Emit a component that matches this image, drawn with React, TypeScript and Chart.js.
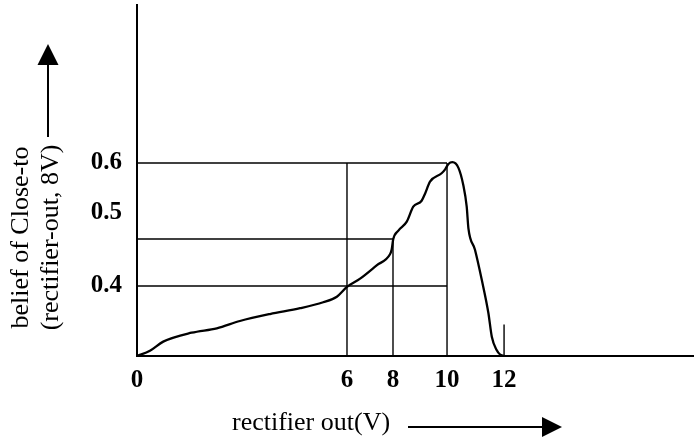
import React, { useEffect, useRef } from 'react';
import { Chart, registerables, LinearScale } from 'chart.js';

Chart.register(...registerables);

// ---------- data ----------
const xTickValues = [0, 6, 8, 10, 12];
const yTickValues = [0.4, 0.5, 0.6];

// belief of Close-to(rectifier-out, 8V) versus rectifier output (V)
const curveVolts = [
  0, 0.37, 0.75, 1.56, 2.28, 2.94, 3.8, 4.66, 5.32, 5.71, 6.0, 6.57, 7.29, 7.87, 7.94,
  8.01, 8.2, 8.51, 8.75, 9.06, 9.19, 9.37, 9.8, 9.93, 10.05, 10.19, 10.4, 10.57, 10.69,
  10.75, 10.98, 11.22, 11.45, 11.57, 11.74, 11.85, 12.0,
];
const curveBelief = [
  0, 0.03, 0.082, 0.133, 0.158, 0.2, 0.24, 0.273, 0.307, 0.339, 0.395, 0.41, 0.428, 0.443,
  0.449, 0.4635, 0.475, 0.487, 0.511, 0.523, 0.538, 0.562, 0.579, 0.587, 0.598, 0.602, 0.59,
  0.555, 0.511, 0.478, 0.449, 0.408, 0.246, 0.11, 0.034, 0.01, 0,
];

// vertical guide lines (volts, height in belief)
const guideVolts = [6, 8, 10];
const guideBelief = [0.6, 0.4635, 0.6];
// horizontal guide lines (belief level, end volt)
const levelBelief = [0.6, 0.4635, 0.4];
const levelEndVolts = [10, 8, 10];
// short mark at 12 V
const markVolts = [12];
const markBelief = [0.18];

const X_TITLE = 'rectifier out(V)';
const Y_TITLE = ['belief of Close-to', '(rectifier-out, 8V)'];

// ---------- piecewise-linear scale (the drawing is not to scale) ----------
function interp(v: number, a: number[], b: number[]): number {
  if (v <= a[0]) return b[0] + ((v - a[0]) * (b[1] - b[0])) / (a[1] - a[0]);
  for (let i = 1; i < a.length; i++) {
    if (v <= a[i]) return b[i - 1] + ((v - a[i - 1]) * (b[i] - b[i - 1])) / (a[i] - a[i - 1]);
  }
  const n = a.length - 1;
  return b[n] + ((v - a[n]) * (b[n] - b[n - 1])) / (a[n] - a[n - 1]);
}

function makePiecewiseScale(id: string, knots: number[], fracs: number[]) {
  const Cls: any = class extends (LinearScale as any) {
    getPixelForValue(value: any) {
      if (value === null || value === undefined || Number.isNaN(+value)) return NaN;
      return (this as any).getPixelForDecimal(interp(+value, knots, fracs));
    }
    getValueForPixel(pixel: number) {
      return interp((this as any).getDecimalForPixel(pixel), fracs, knots);
    }
  };
  Cls.id = id;
  Cls.defaults = (LinearScale as any).defaults;
  return Cls;
}

const VoltScale = makePiecewiseScale(
  'voltPiecewise',
  [0, 6, 8, 10, 12, 18.67],
  [0, 0.377, 0.4596, 0.5566, 0.659, 1]
);
const BeliefScale = makePiecewiseScale(
  'beliefPiecewise',
  [0, 0.4, 0.5, 0.6, 1],
  [0, 0.1994, 0.41, 0.55, 1]
);
Chart.register(VoltScale, BeliefScale);

const SERIF = '"Liberation Serif", "Times New Roman", Times, serif';

const annotate = {
  id: 'annotate',
  afterDraw(chart: any) {
    const { ctx, chartArea } = chart;
    ctx.save();
    ctx.fillStyle = '#000';
    ctx.strokeStyle = '#000';
    ctx.lineWidth = 2;
    ctx.font = `26px ${SERIF}`;
    ctx.textBaseline = 'alphabetic';

    // x title + arrow
    ctx.textAlign = 'left';
    const xt = chartArea.left + 95;
    const xb = chartArea.bottom + 74;
    ctx.fillText(X_TITLE, xt, xb);
    const ay = xb - 3;
    ctx.beginPath();
    ctx.moveTo(408, ay);
    ctx.lineTo(545, ay);
    ctx.stroke();
    ctx.beginPath();
    ctx.moveTo(562, ay);
    ctx.lineTo(542, ay - 10);
    ctx.lineTo(542, ay + 10);
    ctx.closePath();
    ctx.fill();

    // y title (rotated) + arrow
    const cy = 237.5;
    ctx.textAlign = 'center';
    ctx.save();
    ctx.translate(28, cy);
    ctx.rotate(-Math.PI / 2);
    ctx.fillText(Y_TITLE[0], 0, 0);
    ctx.restore();
    ctx.save();
    ctx.translate(58, cy);
    ctx.rotate(-Math.PI / 2);
    ctx.fillText(Y_TITLE[1], 0, 0);
    ctx.restore();

    const ax = 48;
    ctx.beginPath();
    ctx.moveTo(ax, 137);
    ctx.lineTo(ax, 62);
    ctx.stroke();
    ctx.beginPath();
    ctx.moveTo(ax, 44);
    ctx.lineTo(ax - 10.5, 65);
    ctx.lineTo(ax + 10.5, 65);
    ctx.closePath();
    ctx.fill();
    ctx.restore();
  },
};

function seg(x1: number, y1: number, x2: number, y2: number) {
  return {
    data: [
      { x: x1, y: y1 },
      { x: x2, y: y2 },
    ],
    borderColor: '#000',
    borderWidth: 1.4,
    pointRadius: 0,
    tension: 0,
    fill: false,
  };
}

function zeroPadding(s: any) {
  s.paddingTop = 0;
  s.paddingBottom = 0;
  s.paddingLeft = 0;
  s.paddingRight = 0;
}

export default function App() {
  const ref = useRef<HTMLCanvasElement | null>(null);

  useEffect(() => {
    if (!ref.current) return;
    const datasets: any[] = [];
    levelBelief.forEach((b, i) => datasets.push(seg(0, b, levelEndVolts[i], b)));
    guideVolts.forEach((v, i) => datasets.push(seg(v, 0, v, guideBelief[i])));
    markVolts.forEach((v, i) => datasets.push(seg(v, 0, v, markBelief[i])));
    datasets.push({
      data: curveVolts.map((v, i) => ({ x: v, y: curveBelief[i] })),
      borderColor: '#000',
      borderWidth: 2.3,
      pointRadius: 0,
      cubicInterpolationMode: 'monotone',
      fill: false,
    });

    const tickFont = { family: SERIF, size: 25, weight: 'bold' as const };

    const chart = new Chart(ref.current, {
      type: 'line',
      data: { datasets },
      options: {
        animation: false,
        responsive: false,
        devicePixelRatio: 1,
        layout: { padding: { top: 5, left: 0, right: 0, bottom: 0 } },
        plugins: { legend: { display: false }, tooltip: { enabled: false }, title: { display: false } },
        events: [],
        scales: {
          x: {
            type: 'voltPiecewise' as any,
            min: 0,
            max: 18.67,
            afterBuildTicks: (s: any) => {
              s.ticks = xTickValues.map((v) => ({ value: v }));
            },
            afterFit: (s: any) => {
              s.height = 83;
              zeroPadding(s);
            },
            grid: { display: false, drawTicks: false },
            border: { display: true, color: '#000', width: 2 },
            ticks: {
              autoSkip: false,
              maxRotation: 0,
              padding: 10,
              color: '#000',
              font: tickFont,
              callback: (v: any) => String(v),
            },
          },
          y: {
            type: 'beliefPiecewise' as any,
            min: 0,
            max: 1,
            afterBuildTicks: (s: any) => {
              s.ticks = yTickValues.map((v) => ({ value: v }));
            },
            afterFit: (s: any) => {
              s.width = 137;
              zeroPadding(s);
            },
            grid: { display: false, drawTicks: false },
            border: { display: true, color: '#000', width: 2 },
            ticks: {
              autoSkip: false,
              padding: 15,
              color: '#000',
              font: tickFont,
              callback: (v: any) => String(v),
            },
          },
        },
      } as any,
      plugins: [annotate],
    });
    return () => chart.destroy();
  }, []);

  return (
    <div style={{ position: 'fixed', left: 0, top: 0, width: 694, height: 439, background: '#fff' }}>
      <canvas ref={ref} width={694} height={439} style={{ display: 'block', width: 694, height: 439 }} />
    </div>
  );
}
